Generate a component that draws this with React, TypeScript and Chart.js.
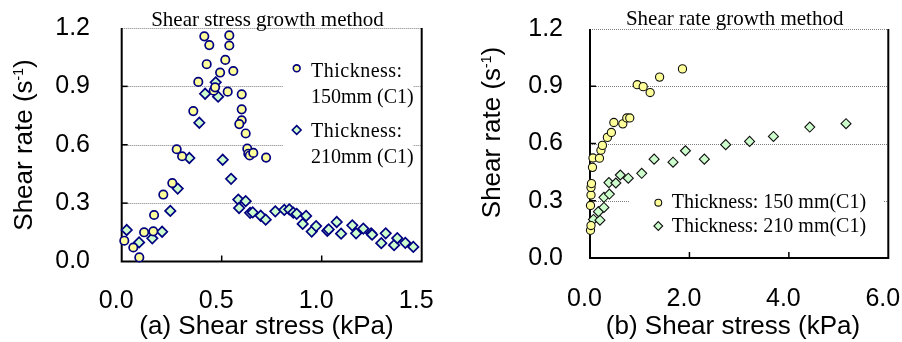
import React, { useEffect, useRef } from 'react';
import { Chart, registerables } from 'chart.js';

Chart.register(...registerables);

// ---------- data ----------
const yTicks = [0, 0.3, 0.6, 0.9, 1.2];
const xTicksA = [0, 0.5, 1.0, 1.5];
const xTicksB = [0, 2.0, 4.0, 6.0];

// (a) Shear stress growth method, thickness 150 mm (C1)
const a150x = [0.013, 0.058, 0.088, 0.112, 0.158, 0.162, 0.208, 0.253, 0.275, 0.302, 0.358, 0.383, 0.413, 0.425, 0.438, 0.46, 0.467, 0.492, 0.518, 0.53, 0.538, 0.538, 0.558, 0.6, 0.6, 0.6, 0.588, 0.62, 0.628, 0.633, 0.64, 0.658, 0.722];
const a150y = [0.107, 0.072, 0.021, 0.15, 0.155, 0.239, 0.344, 0.403, 0.577, 0.541, 0.773, 0.923, 1.157, 1.014, 1.112, 0.878, 0.895, 0.971, 1.036, 0.873, 1.162, 1.11, 0.979, 0.859, 0.782, 0.726, 0.706, 0.658, 0.58, 0.554, 0.545, 0.558, 0.534];
// (a) thickness 210 mm (C1)
const a210x = [0.025, 0.087, 0.153, 0.202, 0.243, 0.28, 0.338, 0.388, 0.417, 0.47, 0.482, 0.505, 0.547, 0.583, 0.587, 0.62, 0.642, 0.655, 0.695, 0.72, 0.768, 0.813, 0.838, 0.858, 0.875, 0.922, 0.905, 0.95, 0.972, 1.028, 1.035, 1.075, 1.097, 1.153, 1.172, 1.208, 1.247, 1.252, 1.298, 1.32, 1.362, 1.378, 1.418, 1.458];
const a210y = [0.162, 0.098, 0.119, 0.153, 0.26, 0.375, 0.532, 0.713, 0.862, 0.921, 0.847, 0.523, 0.425, 0.318, 0.275, 0.31, 0.25, 0.252, 0.235, 0.215, 0.258, 0.265, 0.268, 0.251, 0.245, 0.234, 0.193, 0.154, 0.182, 0.158, 0.165, 0.203, 0.143, 0.186, 0.145, 0.169, 0.145, 0.138, 0.094, 0.145, 0.084, 0.12, 0.096, 0.075];

// (b) Shear rate growth method, thickness 150 mm (C1)
const b150x = [0.01, 0.02, 0.01, 0.02, 0.02, 0.03, 0.05, 0.06, 0.19, 0.22, 0.25, 0.35, 0.43, 0.48, 0.66, 0.74, 0.8, 0.95, 1.07, 1.21, 1.4, 1.86];
const b150y = [0.145, 0.17, 0.275, 0.33, 0.37, 0.39, 0.475, 0.524, 0.523, 0.565, 0.59, 0.632, 0.658, 0.71, 0.703, 0.734, 0.734, 0.908, 0.898, 0.867, 0.948, 0.991];
// (b) thickness 210 mm (C1)
const b210x = [0.07, 0.2, 0.17, 0.28, 0.28, 0.39, 0.38, 0.52, 0.61, 0.77, 1.04, 1.29, 1.67, 1.92, 2.3, 2.73, 3.21, 3.69, 4.42, 5.15];
const b210y = [0.202, 0.198, 0.243, 0.265, 0.318, 0.335, 0.395, 0.393, 0.435, 0.418, 0.444, 0.518, 0.502, 0.562, 0.518, 0.594, 0.611, 0.637, 0.686, 0.704];

const titleA = 'Shear stress growth method';
const titleB = 'Shear rate growth method';
const xTitleA = '(a) Shear stress (kPa)';
const xTitleB = '(b) Shear stress (kPa)';
const yTitleParts = ['Shear rate (s', '-1', ')'];
const legendA = [['Thickness:', '150mm (C1)'], ['Thickness:', '210mm (C1)']];
const legendB = ['Thickness: 150 mm(C1)', 'Thickness: 210 mm(C1)'];

// ---------- styles ----------
const SANS = '"Liberation Sans", Arial, sans-serif';
const SERIF = '"Liberation Serif", "Times New Roman", serif';
const YELLOW = '#FFFF99';
const GREEN = '#CCFFCC';

function drawMarker(ctx: CanvasRenderingContext2D, kind: string, x: number, y: number, r: number, fill: string, stroke: string, lw: number) {
  ctx.beginPath();
  if (kind === 'circle') {
    ctx.arc(x, y, r, 0, Math.PI * 2);
  } else {
    ctx.moveTo(x, y - r);
    ctx.lineTo(x + r, y);
    ctx.lineTo(x, y + r);
    ctx.lineTo(x - r, y);
    ctx.closePath();
  }
  ctx.fillStyle = fill;
  ctx.fill();
  ctx.lineWidth = lw;
  ctx.strokeStyle = stroke;
  ctx.stroke();
}

const fmt = (v: number) => v.toFixed(1);

const deco = {
  id: 'deco',
  beforeDatasetsDraw(chart: any, _a: any, o: any) {
    const { ctx, chartArea: ca, scales } = chart;
    const x = scales.x, y = scales.y;
    ctx.save();
    // dotted gridlines
    ctx.strokeStyle = '#808080';
    ctx.lineWidth = 1;
    ctx.setLineDash([1, 1]);
    for (const v of o.yTicks) {
      if (v === 0) continue;
      const py = Math.round(y.getPixelForValue(v)) + 0.5;
      ctx.beginPath();
      ctx.moveTo(ca.left, py);
      ctx.lineTo(ca.right, py);
      ctx.stroke();
    }
    ctx.setLineDash([]);
    // frame (left, bottom, right)
    ctx.strokeStyle = '#000';
    ctx.lineWidth = 2;
    ctx.beginPath();
    ctx.moveTo(ca.left, ca.top);
    ctx.lineTo(ca.left, ca.bottom);
    ctx.lineTo(ca.right, ca.bottom);
    ctx.lineTo(ca.right, ca.top);
    ctx.stroke();
    // inward ticks
    ctx.lineWidth = 1.5;
    for (const v of o.xTicks) {
      const px = x.getPixelForValue(v);
      if (px <= ca.left + 1 || px >= ca.right - 1) continue;
      ctx.beginPath();
      ctx.moveTo(px, ca.bottom);
      ctx.lineTo(px, ca.bottom - 6);
      ctx.stroke();
    }
    for (const v of o.yTicks) {
      const py = y.getPixelForValue(v);
      if (py >= ca.bottom - 1 || py <= ca.top + 1) continue;
      ctx.beginPath();
      ctx.moveTo(ca.left, py);
      ctx.lineTo(ca.left + 6, py);
      ctx.stroke();
    }
    // tick labels
    ctx.fillStyle = '#000';
    ctx.font = `25px ${SANS}`;
    ctx.textBaseline = 'middle';
    ctx.textAlign = 'right';
    for (const v of o.yTicks) {
      ctx.fillText(fmt(v), o.yLabelRight, y.getPixelForValue(v));
    }
    ctx.textAlign = 'center';
    for (const v of o.xTicks) {
      ctx.fillText(fmt(v), x.getPixelForValue(v) - 5.5, o.xLabelMid);
    }
    ctx.restore();
  },
  afterDatasetsDraw(chart: any, _a: any, o: any) {
    const { ctx } = chart;
    const L = o.legend;
    ctx.save();
    ctx.fillStyle = '#fff';
    ctx.fillRect(L.box[0], L.box[1], L.box[2], L.box[3]);
    ctx.font = `20px ${SERIF}`;
    ctx.textAlign = 'left';
    ctx.textBaseline = 'alphabetic';
    L.items.forEach((it: any) => {
      drawMarker(ctx, it.kind, it.mx, it.my, it.r, it.fill, it.stroke, it.lw);
      ctx.fillStyle = '#000';
      it.lines.forEach((ln: any) => {
        (ctx as any).letterSpacing = ln.ls || '0px';
        ctx.fillText(ln.text, ln.x, ln.y);
      });
    });
    (ctx as any).letterSpacing = '0px';
    ctx.restore();
  },
  afterDraw(chart: any, _a: any, o: any) {
    const { ctx } = chart;
    ctx.save();
    ctx.fillStyle = '#000';
    // chart title
    ctx.font = `21px ${SERIF}`;
    ctx.textAlign = 'center';
    ctx.textBaseline = 'alphabetic';
    ctx.fillText(o.title.text, o.title.x, o.title.y);
    // x title
    ctx.font = `26px ${SANS}`;
    ctx.fillText(o.xTitle.text, o.xTitle.x, o.xTitle.y);
    // y title with superscript
    const [p1, p2, p3] = o.yTitle.parts;
    ctx.translate(o.yTitle.x, o.yTitle.y);
    ctx.rotate(-Math.PI / 2);
    ctx.textAlign = 'left';
    ctx.font = `26px ${SANS}`;
    const w1 = ctx.measureText(p1).width;
    const w3 = ctx.measureText(p3).width;
    ctx.font = `14px ${SANS}`;
    const w2 = ctx.measureText(p2).width;
    const total = w1 + w2 + w3;
    let cx = -total / 2;
    ctx.font = `26px ${SANS}`;
    ctx.fillText(p1, cx, 0);
    cx += w1;
    ctx.font = `14px ${SANS}`;
    ctx.fillText(p2, cx, -9);
    cx += w2;
    ctx.font = `26px ${SANS}`;
    ctx.fillText(p3, cx, 0);
    ctx.restore();
  },
};

function makeConfig(p: any) {
  return {
    type: 'scatter',
    data: {
      datasets: p.series.map((s: any) => ({
        label: s.label,
        data: s.xs.map((v: number, i: number) => ({ x: v, y: s.ys[i] })),
        pointStyle: s.kind === 'circle' ? 'circle' : 'rectRot',
        pointRadius: s.r,
        pointHoverRadius: s.r,
        backgroundColor: s.fill,
        borderColor: s.stroke,
        borderWidth: s.lw,
        pointBorderWidth: s.lw,
        clip: false,
      })),
    },
    options: {
      responsive: false,
      animation: false,
      devicePixelRatio: 1,
      events: [],
      layout: { padding: { top: p.top, right: p.right, left: 0, bottom: 0 } },
      plugins: {
        legend: { display: false },
        tooltip: { enabled: false },
        title: { display: false },
        deco: p.deco,
      },
      scales: {
        x: {
          type: 'linear',
          min: p.xTicks[0],
          max: p.xTicks[p.xTicks.length - 1],
          afterBuildTicks: (s: any) => { s.ticks = p.xTicks.map((v: number) => ({ value: v })); },
          afterFit: (s: any) => { s.height = p.xAxisH; },
          grid: { display: false, drawTicks: false, tickLength: 0 },
          border: { display: false },
          ticks: { display: false, padding: 0 },
        },
        y: {
          type: 'linear',
          min: 0,
          max: 1.2,
          afterBuildTicks: (s: any) => { s.ticks = yTicks.map((v) => ({ value: v })); },
          afterFit: (s: any) => { s.width = p.yAxisW; },
          grid: { display: false, drawTicks: false, tickLength: 0 },
          border: { display: false },
          ticks: { display: false, padding: 0 },
        },
      },
    },
    plugins: [deco],
  } as any;
}

const configA = () => makeConfig({
  top: 28,
  right: 28.3,
  xAxisH: 80.5,
  yAxisW: 121.7,
  xTicks: xTicksA,
  series: [
    { label: 'Thickness: 150mm (C1)', xs: a150x, ys: a150y, kind: 'circle', r: 4.2, fill: YELLOW, stroke: '#000080', lw: 1.7 },
    { label: 'Thickness: 210mm (C1)', xs: a210x, ys: a210y, kind: 'diamond', r: 5.2, fill: GREEN, stroke: '#000080', lw: 1.7 },
  ],
  deco: {
    xTicks: xTicksA,
    yTicks,
    yLabelRight: 90,
    xLabelMid: 301,
    title: { text: titleA, x: 267.5, y: 26 },
    xTitle: { text: xTitleA, x: 266.5, y: 334 },
    yTitle: { parts: yTitleParts, x: 31.5, y: 145 },
    legend: {
      box: [283, 50, 130, 122],
      items: [
        { kind: 'circle', mx: 296.7, my: 68.3, r: 3.4, fill: YELLOW, stroke: '#000080', lw: 1.6,
          lines: [{ text: legendA[0][0], x: 311, y: 76.7, ls: '0.5px' }, { text: legendA[0][1], x: 311, y: 103.3 }] },
        { kind: 'diamond', mx: 296.7, my: 130, r: 4.4, fill: GREEN, stroke: '#000080', lw: 1.6,
          lines: [{ text: legendA[1][0], x: 311, y: 136.7, ls: '0.5px' }, { text: legendA[1][1], x: 311, y: 162.5 }] },
      ],
    },
  },
});

const configB = () => makeConfig({
  top: 29,
  right: 13.7,
  xAxisH: 84,
  yAxisW: 140,
  xTicks: xTicksB,
  series: [
    { label: 'Thickness: 150 mm(C1)', xs: b150x, ys: b150y, kind: 'circle', r: 4.1, fill: YELLOW, stroke: '#111', lw: 1.1 },
    { label: 'Thickness: 210 mm(C1)', xs: b210x, ys: b210y, kind: 'diamond', r: 5.0, fill: GREEN, stroke: '#111', lw: 1.1 },
  ],
  deco: {
    xTicks: xTicksB,
    yTicks,
    yLabelRight: 113,
    xLabelMid: 299.5,
    title: { text: titleB, x: 284.7, y: 25 },
    xTitle: { text: xTitleB, x: 283, y: 334 },
    yTitle: { parts: yTitleParts, x: 49.5, y: 132.5 },
    legend: {
      box: [180, 183, 253, 60],
      items: [
        { kind: 'circle', mx: 208.3, my: 202.7, r: 3.4, fill: YELLOW, stroke: '#111', lw: 1.1,
          lines: [{ text: legendB[0], x: 221.7, y: 208 }] },
        { kind: 'diamond', mx: 208.3, my: 226, r: 4.4, fill: GREEN, stroke: '#111', lw: 1.1,
          lines: [{ text: legendB[1], x: 221.7, y: 231.7 }] },
      ],
    },
  },
});

function Panel({ left, width, make }: { left: number; width: number; make: () => any }) {
  const ref = useRef<HTMLCanvasElement>(null);
  useEffect(() => {
    const chart = new Chart(ref.current as HTMLCanvasElement, make());
    return () => chart.destroy();
  }, []);
  return (
    <canvas
      ref={ref}
      width={width}
      height={342}
      style={{ position: 'absolute', left, top: 0, width, height: 342 }}
    />
  );
}

export default function App() {
  return (
    <div style={{ position: 'absolute', left: 0, top: 0, width: 902, height: 342, background: '#fff' }}>
      <Panel left={0} width={450} make={configA} />
      <Panel left={450} width={452} make={configB} />
    </div>
  );
}
